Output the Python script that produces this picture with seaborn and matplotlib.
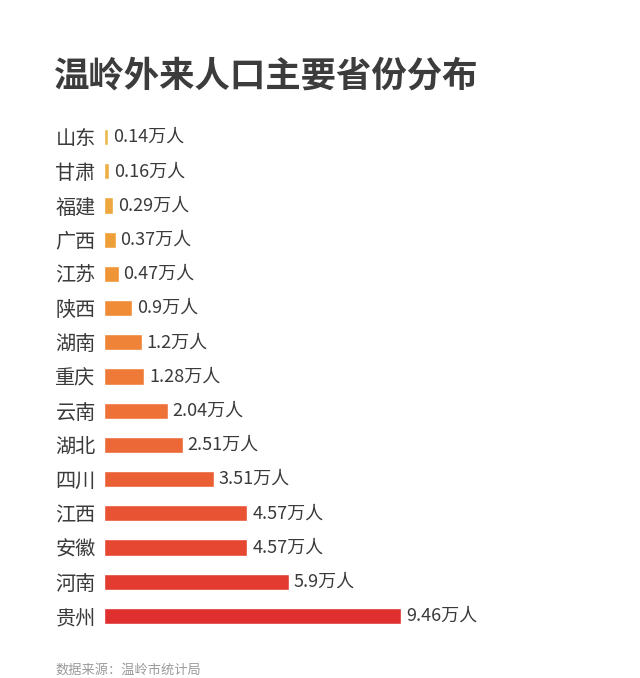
import matplotlib
matplotlib.use("Agg")
import matplotlib.pyplot as plt
import seaborn as sns
import pandas as pd
from matplotlib.colors import LinearSegmentedColormap, to_hex

provinces = ["山东", "甘肃", "福建", "广西", "江苏", "陕西", "湖南", "重庆",
             "云南", "湖北", "四川", "江西", "安徽", "河南", "贵州"]
values = [0.14, 0.16, 0.29, 0.37, 0.47, 0.9, 1.2, 1.28,
          2.04, 2.51, 3.51, 4.57, 4.57, 5.9, 9.46]
value_labels = ["0.14万人", "0.16万人", "0.29万人", "0.37万人", "0.47万人", "0.9万人",
                "1.2万人", "1.28万人", "2.04万人", "2.51万人", "3.51万人", "4.57万人",
                "4.57万人", "5.9万人", "9.46万人"]
title = "温岭外来人口主要省份分布"
source = "数据来源：温岭市统计局"

sns.set_theme(style="white")
plt.rcParams["font.family"] = ["Noto Sans CJK SC", "DejaVu Sans"]

df = pd.DataFrame({"province": provinces, "value": values})

cmap = LinearSegmentedColormap.from_list(
    "grad", ["#ecb84c", "#f09a34", "#ef7a38", "#ea5a34", "#e02f2f"])
n = len(provinces)
palette = {p: to_hex(cmap(i / (n - 1))) for i, p in enumerate(provinces)}

fig = plt.figure(figsize=(6.4, 6.78), dpi=100)
ax = fig.add_axes([104 / 640, 1 - 633 / 678, (575 - 104) / 640, (633 - 120) / 678])

sns.barplot(data=df, y="province", x="value", hue="province", palette=palette,
            order=provinces, orient="h", width=0.47, legend=False, ax=ax,
            saturation=1)

ax.set_xlim(0, 15)
ax.set_ylim(n - 0.5, -0.5)
ax.set_xlabel("")
ax.set_ylabel("")
ax.set_xticks([])
for s in ax.spines.values():
    s.set_visible(False)
ax.tick_params(axis="y", length=0, pad=6, labelsize=14.5, labelcolor="#3a3a3a")

for i, (v, lab) in enumerate(zip(values, value_labels)):
    ax.text(v + 0.15, i, lab, va="center", ha="left", fontsize=13, color="#3a3a3a")

fig.text(54 / 640, 1 - 76 / 678, title, fontsize=25.5, fontweight="bold",
         color="#3c3c3c", va="center", ha="left")
fig.text(55 / 640, 1 - 670 / 678, source, fontsize=9.5, color="#9a9a9a",
         va="center", ha="left")

fig.savefig("out.png", dpi=100, facecolor="white")
